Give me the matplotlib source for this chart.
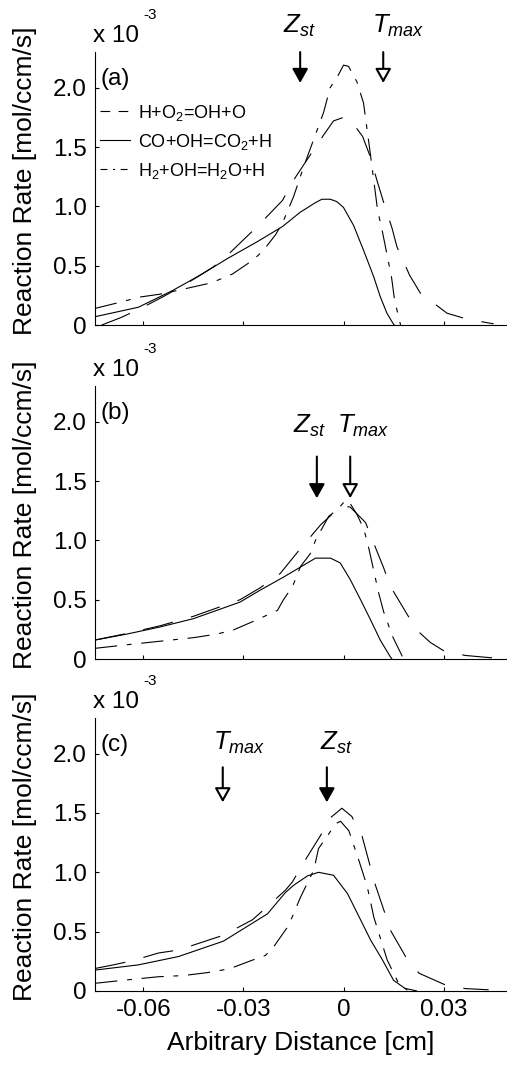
import matplotlib
matplotlib.use('Agg')
import matplotlib.pyplot as plt
from matplotlib.lines import Line2D

plt.rcParams['font.family'] = ['Liberation Sans', 'DejaVu Sans']
plt.rcParams['mathtext.fontset'] = 'custom'
plt.rcParams['mathtext.rm'] = 'Liberation Sans'
plt.rcParams['mathtext.it'] = 'Liberation Sans:italic'
plt.rcParams['mathtext.bf'] = 'Liberation Sans:bold'
plt.rcParams['lines.scale_dashes'] = False

# ---------------- data (reaction rate in units of 1e-3 mol/ccm/s) ----------------
reactions = ['H+O$_2$=OH+O', 'CO+OH=CO$_2$+H', 'H$_2$+OH=H$_2$O+H']
panel_names = ['(a)', '(b)', '(c)']

# panel (a)
a_ho2_x = [-0.0725, -0.067, -0.0615, -0.054, -0.047, -0.039, -0.034, -0.0255, -0.0183, -0.015,
           -0.011, -0.006, -0.003, 0.0, 0.002, 0.0057, 0.008, 0.010, 0.0125, 0.0145, 0.016,
           0.0198, 0.023, 0.031, 0.037, 0.045]
a_ho2_y = [0.0, 0.06, 0.13, 0.24, 0.35, 0.49, 0.61, 0.84, 1.05, 1.22,
           1.39, 1.60, 1.72, 1.75, 1.73, 1.59, 1.42, 1.22, 0.99, 0.82, 0.66,
           0.42, 0.27, 0.10, 0.05, 0.01]
a_co_x = [-0.0745, -0.068, -0.0615, -0.0513, -0.043, -0.0345, -0.026, -0.0183, -0.013, -0.0085,
          -0.0065, -0.004, -0.002, 0.0, 0.003, 0.006, 0.009, 0.011, 0.013, 0.0147, 0.0152]
a_co_y = [0.07, 0.11, 0.15, 0.29, 0.42, 0.565, 0.70, 0.83, 0.95, 1.03,
          1.06, 1.06, 1.04, 0.99, 0.84, 0.63, 0.41, 0.24, 0.10, 0.02, 0.0]
a_h2_x = [-0.0745, -0.068, -0.061, -0.055, -0.0468, -0.0405, -0.0375, -0.0333, -0.027, -0.024,
          -0.0204, -0.0183, -0.015, -0.012, -0.009, -0.006, -0.004, -0.0015, 0.0, 0.0015,
          0.004, 0.006, 0.008, 0.0102, 0.0117, 0.0132, 0.0144, 0.0153, 0.0171]
a_h2_y = [0.14, 0.185, 0.236, 0.26, 0.31, 0.35, 0.38, 0.43, 0.55, 0.63,
          0.76, 0.86, 1.08, 1.33, 1.56, 1.79, 2.0, 2.11, 2.19, 2.18,
          2.05, 1.87, 1.45, 0.97, 0.78, 0.57, 0.40, 0.21, 0.0]

# panel (b)
b_ho2_x = [-0.0745, -0.065, -0.055, -0.045, -0.031, -0.025, -0.019, -0.0138, -0.0069, -0.0015,
           0.0, 0.002, 0.0066, 0.0087, 0.012, 0.0141, 0.0192, 0.0225, 0.026, 0.030, 0.0365, 0.0445]
b_ho2_y = [0.16, 0.215, 0.28, 0.36, 0.50, 0.60, 0.72, 0.90, 1.13, 1.27,
           1.29, 1.28, 1.15, 1.00, 0.77, 0.61, 0.37, 0.23, 0.14, 0.07, 0.03, 0.01]
b_co_x = [-0.0745, -0.065, -0.055, -0.045, -0.031, -0.025, -0.018, -0.012, -0.0084, -0.0039,
          -0.001, 0.002, 0.0051, 0.0081, 0.011, 0.014, 0.0145]
b_co_y = [0.16, 0.21, 0.27, 0.34, 0.48, 0.58, 0.69, 0.79, 0.85, 0.85,
          0.81, 0.67, 0.50, 0.33, 0.16, 0.02, 0.0]
b_h2_x = [-0.0745, -0.065, -0.055, -0.045, -0.038, -0.033, -0.026, -0.0198, -0.018, -0.0153,
          -0.0129, -0.0099, -0.0084, -0.0045, -0.0015, 0.0007, 0.002, 0.004, 0.006, 0.0072,
          0.0087, 0.0105, 0.012, 0.0147, 0.018]
b_h2_y = [0.09, 0.12, 0.15, 0.18, 0.21, 0.245, 0.33, 0.41, 0.50, 0.61,
          0.78, 0.89, 1.0, 1.2, 1.27, 1.34, 1.31, 1.22, 1.10, 0.98,
          0.79, 0.56, 0.40, 0.19, 0.0]

# panel (c)
c_ho2_x = [-0.0744, -0.069, -0.0633, -0.0555, -0.0495, -0.0414, -0.036, -0.0273, -0.0225, -0.0174,
           -0.0153, -0.012, -0.0069, -0.0039, -0.0005, 0.0025, 0.0056, 0.0081, 0.0091, 0.0121,
           0.0141, 0.0186, 0.0226, 0.0306, 0.0366, 0.0435]
c_ho2_y = [0.19, 0.22, 0.255, 0.32, 0.345, 0.42, 0.47, 0.60, 0.72, 0.85,
           0.92, 1.08, 1.31, 1.46, 1.54, 1.47, 1.30, 1.04, 0.93, 0.68,
           0.51, 0.29, 0.15, 0.05, 0.02, 0.01]
c_co_x = [-0.0745, -0.0615, -0.0495, -0.036, -0.0228, -0.0174, -0.015, -0.0108, -0.0075, -0.003,
          0.0012, 0.0051, 0.0081, 0.0117, 0.015, 0.019]
c_co_y = [0.176, 0.22, 0.29, 0.42, 0.65, 0.83, 0.89, 0.97, 1.0, 0.975,
          0.82, 0.60, 0.43, 0.26, 0.09, 0.01]
c_h2_x = [-0.0744, -0.0654, -0.0555, -0.048, -0.041, -0.0375, -0.0339, -0.0273, -0.0234, -0.021,
          -0.0165, -0.0129, -0.0089, -0.0075, -0.0045, -0.0024, -0.0009, 0.0016, 0.0046, 0.0071,
          0.0091, 0.0131, 0.0171, 0.022]
c_h2_y = [0.065, 0.092, 0.12, 0.13, 0.154, 0.17, 0.19, 0.26, 0.30, 0.37,
          0.55, 0.79, 1.02, 1.20, 1.32, 1.41, 1.43, 1.35, 1.10, 0.88,
          0.62, 0.26, 0.03, 0.0]

# marker positions (Z_st and T_max locations) per panel
zst_x = [-0.013, -0.008, -0.005]
tmax_x = [0.0119, 0.002, -0.0362]

xticks = [-0.06, -0.03, 0.0, 0.03]
xtick_labels = ['-0.06', '-0.03', '0', '0.03']
yticks = [0, 0.5, 1.0, 1.5, 2.0]
ytick_labels = ['0', '0.5', '1.0', '1.5', '2.0']

panels = [
    (a_ho2_x, a_ho2_y, a_co_x, a_co_y, a_h2_x, a_h2_y),
    (b_ho2_x, b_ho2_y, b_co_x, b_co_y, b_h2_x, b_h2_y),
    (c_ho2_x, c_ho2_y, c_co_x, c_co_y, c_h2_x, c_h2_y),
]

# ---------------- layout / style ----------------
W, H = 507, 1065
fig = plt.figure(figsize=(W / 100, H / 100), dpi=100)
ax_left = 95 / W
ax_w = 1.0 - ax_left
ax_h = 0.2563
bottoms = [0.6948, 0.3812, 0.0695]

dash_ho2 = (22, 13.5)
dash_h2 = (16, 7, 3.5, 7)
lw = 0.8
tick_fs = 17.5
lab_fs = 19

# arrow vertical extents (top, tip) and label placements per panel
arrow_y = [(2.30, 2.04), (1.706, 1.355), (1.885, 1.59)]
label_y = [2.464, 1.906, 2.03]
zst_label_x = [-0.0181, -0.0151, -0.0070]
tmax_label_x = [0.0086, -0.0019, -0.0391]


def arrow(ax, x, ytop, ytip, filled):
    ax.annotate('', xy=(x, ytip), xytext=(x, ytop),
                arrowprops=dict(arrowstyle='-|>,head_length=0.43,head_width=0.24',
                                mutation_scale=20, lw=1.5, ec='black',
                                fc='black' if filled else 'white',
                                shrinkA=0, shrinkB=0),
                annotation_clip=False)


axes = []
for i, (hx, hy, cx, cy, h2x, h2y) in enumerate(panels):
    ax = fig.add_axes([ax_left, bottoms[i], ax_w, ax_h])
    axes.append(ax)
    ax.plot(hx, hy, color='black', lw=lw, linestyle=(0, dash_ho2))
    ax.plot(cx, cy, color='black', lw=lw, linestyle='-')
    ax.plot(h2x, h2y, color='black', lw=lw, linestyle=(0, dash_h2))

    ax.set_xlim(-0.0745, 0.049)
    ax.set_ylim(0, 2.3)
    for s in ['top', 'right']:
        ax.spines[s].set_visible(False)
    for s in ['left', 'bottom']:
        ax.spines[s].set_linewidth(0.8)
    ax.set_xticks(xticks)
    ax.set_yticks(yticks)
    ax.set_yticklabels(ytick_labels)
    if i == 2:
        ax.set_xticklabels(xtick_labels)
        ax.set_xlabel('Arbitrary Distance [cm]', fontsize=lab_fs)
        ax.xaxis.set_label_coords(0.5, -0.148)
    else:
        ax.set_xticklabels([])
    ax.tick_params(direction='in', length=3, width=0.8, labelsize=tick_fs,
                   top=False, right=False, pad=6)
    ax.set_ylabel('Reaction Rate [mol/ccm/s]', fontsize=lab_fs)
    ax.yaxis.set_label_coords(-0.141, 0.53)

    # exponent text
    ax.text(-0.005, 1.0 + 10.5 / 273, 'x 10', transform=ax.transAxes,
            fontsize=tick_fs, ha='left', va='baseline')
    ax.text(0.117, 1.0 + 33 / 273, '-3', transform=ax.transAxes,
            fontsize=11, ha='left', va='baseline')

    # panel letter
    ax.text(-0.073, 2.07, panel_names[i], fontsize=tick_fs, ha='left', va='center')

    # arrows and labels
    yt, yp = arrow_y[i]
    arrow(ax, zst_x[i], yt, yp, True)
    arrow(ax, tmax_x[i], yt, yp, False)
    ax.text(zst_label_x[i], label_y[i], '$Z_{st}$', fontsize=18.5, ha='left',
            va='baseline', clip_on=False)
    ax.text(tmax_label_x[i], label_y[i], '$T_{max}$', fontsize=18.5, ha='left',
            va='baseline', clip_on=False)

    if i == 0:
        proxies = [Line2D([], [], color='black', lw=lw, linestyle=(0, (7, 6))),
                   Line2D([], [], color='black', lw=lw, linestyle='-'),
                   Line2D([], [], color='black', lw=lw, linestyle=(0, (5, 4, 1.5, 4)))]
        ax.legend(proxies, reactions, loc='upper left', bbox_to_anchor=(5 / 412, 0.815),
                  frameon=False, fontsize=13, handlelength=1.66, handletextpad=0.45,
                  borderpad=0, borderaxespad=0, labelspacing=0.5)

fig.savefig('out.png', dpi=100)
